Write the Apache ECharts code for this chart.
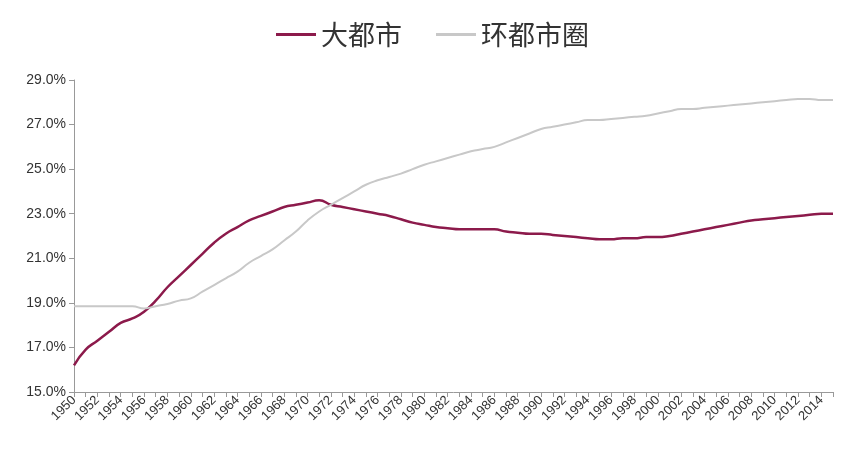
<!DOCTYPE html>
<html><head><meta charset="utf-8">
<script src="https://cdn.jsdelivr.net/npm/echarts@6/dist/echarts.min.js"></script>
<style>html,body{margin:0;background:#fff}#c{width:865px;height:450px}</style>
</head><body><div id="c"></div>
<script>
const years = [];
for (let y = 1950; y <= 2015; y++) years.push(String(y));
const metro = [16.2,16.9,17.3,17.7,18.1,18.3,18.6,19.1,19.7,20.2,20.7,21.2,21.7,22.1,22.4,22.7,22.9,23.1,23.3,23.4,23.5,23.6,23.4,23.3,23.2,23.1,23.0,22.9,22.75,22.6,22.5,22.4,22.35,22.3,22.3,22.3,22.3,22.2,22.15,22.1,22.1,22.05,22.0,21.95,21.9,21.85,21.85,21.9,21.9,21.95,21.95,22.0,22.1,22.2,22.3,22.4,22.5,22.6,22.7,22.75,22.8,22.85,22.9,22.95,23.0,23.0];
const ring = [18.85,18.85,18.85,18.85,18.85,18.85,18.75,18.85,18.95,19.1,19.2,19.5,19.8,20.1,20.4,20.8,21.1,21.4,21.8,22.2,22.7,23.1,23.4,23.7,24.0,24.3,24.5,24.65,24.8,25.0,25.2,25.35,25.5,25.65,25.8,25.9,26.0,26.2,26.4,26.6,26.8,26.9,27.0,27.1,27.2,27.2,27.25,27.3,27.35,27.4,27.5,27.6,27.7,27.7,27.75,27.8,27.85,27.9,27.95,28.0,28.05,28.1,28.15,28.15,28.1,28.1];
const chart = echarts.init(document.getElementById('c'));
chart.setOption({
  animation:false,
  legend:{top:16,left:'center',itemWidth:40,itemGap:34,icon:'rect',itemHeight:3,
    textStyle:{fontSize:27,color:'#333',fontFamily:'Noto Sans CJK SC'}},
  grid:{left:74,right:32,top:80,bottom:58},
  xAxis:{type:'category',data:years,boundaryGap:false,
    axisLine:{lineStyle:{color:'#999'}},axisTick:{interval:0,length:5,lineStyle:{color:'#999'}},
    axisLabel:{interval:1,rotate:45,fontSize:13,color:'#333',fontFamily:'Liberation Sans',margin:6}},
  yAxis:{type:'value',min:15,max:29,interval:2,splitLine:{show:false},
    axisLine:{show:true,lineStyle:{color:'#999'}},axisTick:{show:true,length:5,lineStyle:{color:'#999'}},
    axisLabel:{formatter:v=>v.toFixed(1)+'%',fontSize:14,color:'#333',fontFamily:'Liberation Sans'}},
  series:[
    {name:'大都市',type:'line',data:metro,smooth:true,showSymbol:false,lineStyle:{width:2.5,color:'#8c1a4b'},itemStyle:{color:'#8c1a4b'}},
    {name:'环都市圈',type:'line',data:ring,smooth:true,showSymbol:false,lineStyle:{width:2,color:'#c8c8c8'},itemStyle:{color:'#c8c8c8'}}
  ]
});
</script></body></html>
